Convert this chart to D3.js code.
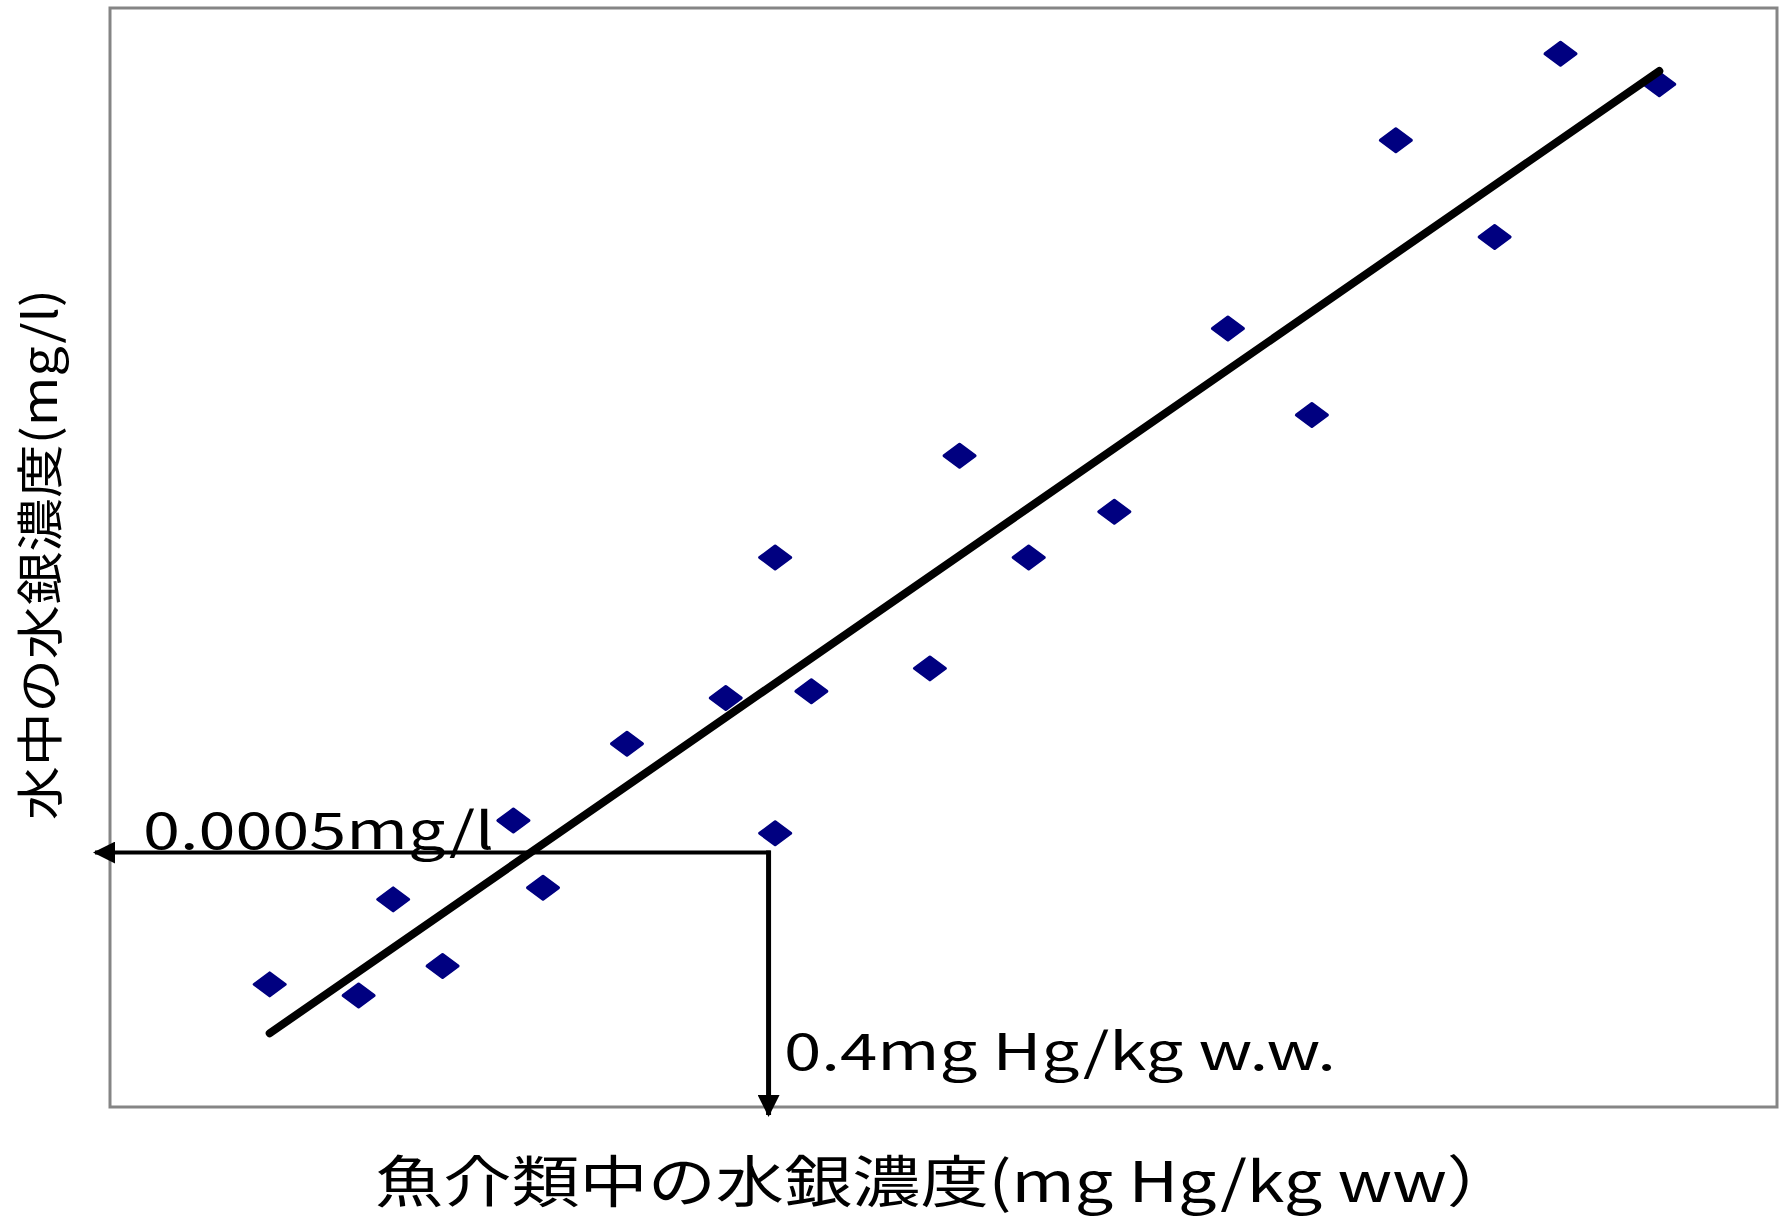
<!DOCTYPE html>
<html>
<head>
<meta charset="utf-8">
<script src="https://cdn.jsdelivr.net/npm/d3@7"></script>
<style>
  body { margin: 0; background: #fff; }
  svg { display: block; }
</style>
</head>
<body>
<div id="chart"></div>
<script>
// Data (x: mg Hg/kg ww, y: mg/l)
var xVals = [0.097, 0.151, 0.172, 0.202, 0.245, 0.263, 0.314, 0.374, 0.404, 0.404, 0.426,
             0.498, 0.516, 0.558, 0.610, 0.679, 0.730, 0.781, 0.841, 0.881, 0.941];
var yVals = [0.000241, 0.000219, 0.000408, 0.000277, 0.000563, 0.000431, 0.000714, 0.000804, 0.00108, 0.000538, 0.000817,
             0.000862, 0.00128, 0.00108, 0.00117, 0.00153, 0.00136, 0.0019, 0.00171, 0.00207, 0.00201];

// Trend line end points
var trendX = [0.097, 0.941];
var trendY = [0.000145, 0.002036];

// Reference values
var refX = 0.4;
var refY = 0.0005;

var xDomain = [0, 1.0125];
var yDomain = [0, 0.00216];

var xTitle = "魚介類中の水銀濃度(mg Hg/kg ww）";
var yTitle = "水中の水銀濃度(mg/l)";
var refYLabel = "0.0005mg/l";
var refXLabel = "0.4mg Hg/kg w.w.";

// Layout
var W = 1780, H = 1219;
var plot = {left: 110, top: 8, right: 1777, bottom: 1107};

var svg = d3.select("#chart")
            .append("svg")
            .attr("width", W)
            .attr("height", H);

var x = d3.scaleLinear().domain(xDomain).range([plot.left, plot.right]);
var y = d3.scaleLinear().domain(yDomain).range([plot.bottom, plot.top]);

var font = "'Noto Sans CJK JP', 'Noto Sans', sans-serif";

// Frame
svg.append("rect")
   .attr("x", plot.left)
   .attr("y", plot.top)
   .attr("width", plot.right - plot.left)
   .attr("height", plot.bottom - plot.top)
   .attr("fill", "#fff")
   .attr("stroke", "#858585")
   .attr("stroke-width", 3);

// Arrow heads
var defs = svg.append("defs");
defs.append("marker")
    .attr("id", "arrow")
    .attr("viewBox", "0 0 22 22")
    .attr("markerWidth", 22)
    .attr("markerHeight", 22)
    .attr("markerUnits", "userSpaceOnUse")
    .attr("refX", 20)
    .attr("refY", 11)
    .attr("orient", "auto")
    .append("path")
    .attr("d", "M0,0 L22,11 L0,22 Z")
    .attr("fill", "#000");

// Reference arrows: from (refX, refY) to the left edge and down to the bottom
var arrows = svg.append("g")
   .attr("stroke", "#000")
   .attr("fill", "none");

arrows.append("line")
      .attr("x1", x(refX) + 2).attr("y1", y(refY))
      .attr("x2", plot.left - 15).attr("y2", y(refY))
      .attr("stroke-width", 4)
      .attr("marker-end", "url(#arrow)");

arrows.append("line")
      .attr("x1", x(refX)).attr("y1", y(refY) - 2)
      .attr("x2", x(refX)).attr("y2", plot.bottom + 8)
      .attr("stroke-width", 5)
      .attr("marker-end", "url(#arrow)");

// Points (diamonds)
var dw = 15.5, dh = 11.5;
svg.append("g")
   .selectAll("path")
   .data(xVals.map(function(d, i) { return [d, yVals[i]]; }))
   .enter()
   .append("path")
   .attr("d", "M" + (-dw) + ",0 L0," + (-dh) + " L" + dw + ",0 L0," + dh + " Z")
   .attr("transform", function(d) { return "translate(" + x(d[0]) + "," + y(d[1]) + ")"; })
   .attr("fill", "#000080")
   .attr("stroke", "#000080")
   .attr("stroke-width", 3)
   .attr("stroke-linejoin", "round");

// Trend line
var line = d3.line().x(d => x(d[0])).y(d => y(d[1]));
svg.append("path")
   .attr("d", line(trendX.map(function(d, i) { return [d, trendY[i]]; })))
   .attr("stroke", "#000")
   .attr("stroke-width", 8)
   .attr("stroke-linecap", "round")
   .attr("fill", "none");

// Reference labels
svg.append("text")
   .attr("x", 143)
   .attr("y", y(refY) - 4)
   .attr("font-family", font)
   .attr("font-size", 51)
   .attr("textLength", 351)
   .attr("lengthAdjust", "spacingAndGlyphs")
   .attr("fill", "#000")
   .text(refYLabel);

svg.append("text")
   .attr("x", 784)
   .attr("y", 1070)
   .attr("font-family", font)
   .attr("font-size", 51)
   .attr("textLength", 552)
   .attr("lengthAdjust", "spacingAndGlyphs")
   .attr("fill", "#000")
   .text(refXLabel);

// Axis titles
svg.append("text")
   .attr("x", 375)
   .attr("y", 1202)
   .attr("font-family", font)
   .attr("font-size", 56)
   .attr("textLength", 1140)
   .attr("lengthAdjust", "spacingAndGlyphs")
   .attr("fill", "#000")
   .text(xTitle);

svg.append("text")
   .attr("transform", "translate(57,820) rotate(-90)")
   .attr("x", 0)
   .attr("y", 0)
   .attr("font-family", font)
   .attr("font-size", 47)
   .attr("textLength", 531)
   .attr("lengthAdjust", "spacingAndGlyphs")
   .attr("fill", "#000")
   .text(yTitle);
</script>
</body>
</html>
